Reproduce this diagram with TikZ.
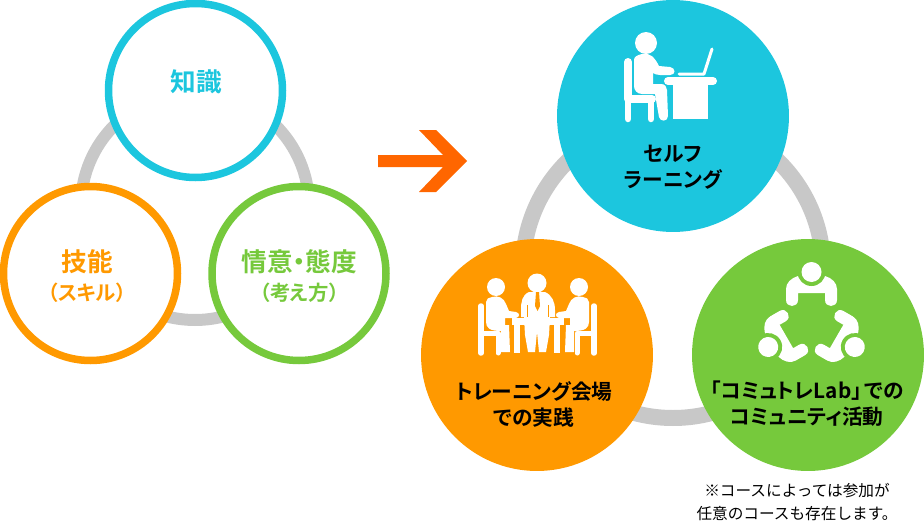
\documentclass[tikz,border=0pt]{standalone}
\usepackage{fontspec}
\setmainfont{Noto Sans CJK JP}
\newfontfamily\jpbold[RawFeature={+palt}]{Noto Sans CJK JP Bold}
\definecolor{ringblue}{HTML}{1CC6DE}
\definecolor{ringorange}{HTML}{FF9900}
\definecolor{ringgreen}{HTML}{76C93C}
\definecolor{ringgray}{HTML}{C8C8C8}
\definecolor{arroworange}{HTML}{FF6600}
\newcommand{\labelsize}{\fontsize{14.6}{15.4}\selectfont}
\newcommand{\subsize}{\fontsize{11.6}{15.4}\selectfont}
\newcommand{\bigsize}{\fontsize{11.8}{14.8}\selectfont}
\newcommand{\notesize}{\fontsize{8.9}{13.6}\selectfont}
\tikzset{
    ring/.style={line width=1.5mm, fill=white},
    disc/.style={circle, minimum size=4.64cm, inner sep=0pt},
    label/.style={align=center, inner sep=0pt, font=\jpbold\bigsize},
    notelabel/.style={align=center, inner sep=0pt, font=\notesize},
    icon/.style={white, line cap=round, line join=round},
}
\begin{document}
\begin{tikzpicture}[x=0.02cm, y=-0.02cm]
    \clip (0,0) rectangle (924,524);

    % left group
    \coordinate (K) at (195.5,90.5);
    \coordinate (S) at (90.5,273.5);
    \coordinate (A) at (299,273.5);
    \coordinate (LC) at (195,206);

    \draw[ringgray, line width=2.4mm] (LC) circle (114);
    \draw[ring, draw=ringblue] (K) circle (87);
    \draw[ring, draw=ringorange] (S) circle (87);
    \draw[ring, draw=ringgreen] (A) circle (87);

    \node[label, text=ringblue, font=\jpbold\labelsize] (knowledge) at (196.5,82) {知識};
    \node[label, text=ringorange, font=\jpbold\labelsize] (skill) at (87,276) {技能\\[1pt]\subsize （スキル）};
    \node[label, text=ringgreen, font=\jpbold\labelsize] (attitude) at (299.5,276) {情意・態度\\[1pt]\subsize （考え方）};

    % arrow
    \fill[arroworange] (378,155) -- (443,155) -- (419,130) -- (436,130) -- (467,161)
        -- (436,192) -- (419,192) -- (443,167) -- (378,167) -- cycle;

    % right group
    \coordinate (B) at (673,116);
    \coordinate (O) at (537,355);
    \coordinate (G) at (808,355);
    \coordinate (RC) at (673,268);

    \draw[ringgray, line width=3.2mm] (RC) circle (150);
    \node[disc, fill=ringblue] (self) at (B) {};
    \node[disc, fill=ringorange] (training) at (O) {};
    \node[disc, fill=ringgreen] (community) at (G) {};

    % desk icon
    \fill[white] (646,43) circle (11);
    \draw[icon, line width=1.6mm] (628,62) -- (628,99) -- (652,99);
    \draw[icon, line width=1.3mm] (628,99) -- (628,119);
    \draw[icon, line width=1.3mm] (651,99) -- (651,119);
    \fill[icon] (642,54) .. controls (650,52) and (655,58) .. (659,66) -- (670,67)
        .. controls (676,68) and (676,75) .. (670,75) -- (660,75) .. controls (657,75) and (654,74) .. (653,73)
        -- (653,84) -- (661,84) .. controls (665,84) and (667,87) .. (667,90) -- (668,116)
        .. controls (668,122) and (660,122) .. (659,117) -- (655,94) -- (642,94)
        .. controls (637,94) and (634,90) .. (634,86) -- (634,60) .. controls (634,57) and (637,55) .. (642,54) -- cycle;
    \draw[icon, line width=1.6mm] (668,81) -- (713,81);
    \fill[white] (673,81) rectangle (708,119);
    \draw[icon, line width=0.6mm] (712,49) -- (704,74) -- (679,74);

    % meeting icon
    \foreach \sx/\cx in {1/496,-1/579}{
        \begin{scope}[shift={(\cx,0)}, xscale=\sx]
            \fill[white] (0,287) circle (9);
            \draw[icon, line width=1.1mm] (-15,306) -- (-15,353);
            \draw[icon, line width=1.0mm] (-15,333) -- (2,333) -- (2,353);
            \fill[icon] (-4,297) .. controls (2,295) and (8,298) .. (10,304) -- (13,311) -- (20,312)
                .. controls (24,313) and (24,317) .. (20,318) -- (9,318) -- (9,325) -- (13,325)
                -- (14,352) -- (5,352) -- (5,331) .. controls (-6,331) and (-10,328) .. (-10,322)
                -- (-10,302) .. controls (-10,299) and (-7,297) .. (-4,297) -- cycle;
        \end{scope}
    }
    \fill[white] (537,283) circle (9.5);
    \fill[icon] (529,292) -- (545,292) .. controls (552,295) and (555,302) .. (555,310) -- (555,317)
        -- (550,317) -- (549,335) -- (546,352) -- (539,352) -- (537,332) -- (535,352) -- (528,352)
        -- (525,335) -- (524,317) -- (521,317) -- (521,310) .. controls (521,302) and (522,295) .. (529,292) -- cycle;
    \fill[ringorange] (536,292) -- (539,292) -- (540,306) -- (537.5,311) -- (535,306) -- cycle;
    \draw[ringorange, line width=0.15mm] (527,305) -- (527,317);
    \draw[ringorange, line width=0.15mm] (548,305) -- (548,317);
    \fill[white] (512,318) rectangle (564,325);
    \fill[white] (514,318) rectangle (520,353);
    \fill[white] (554,318) rectangle (560,353);

    % group icon
    \foreach \ang in {0,120,240}{
        \begin{scope}[rotate around={\ang:(811.5,322)}]
            \fill[white] (786,300) -- (786,289) .. controls (786,283) and (791,278) .. (798,276)
                -- (825,276) .. controls (832,278) and (837,283) .. (837,289) -- (837,300)
                .. controls (837,308) and (825,308) .. (825,300) -- (825,293) -- (798,293) -- (798,300)
                .. controls (798,308) and (786,308) .. (786,300) -- cycle;
            \fill[ringgreen] (811.5,272) circle (14);
            \fill[white] (811.5,272) circle (10);
        \end{scope}
    }

    % labels
    \node[label] (selfname) at (673,167.5) {セルフ\\ラーニング};
    \node[label] (trainingname) at (534,404) {トレーニング会場\\での実践};
    \node[label] (communityname) at (807,404) {「コミュトレLab」\hspace{1.5pt}での\\コミュニティ活動};
    \node[notelabel] (note) at (797,502) {※コースによっては参加が\\任意のコースも存在します。};
\end{tikzpicture}
\end{document}
